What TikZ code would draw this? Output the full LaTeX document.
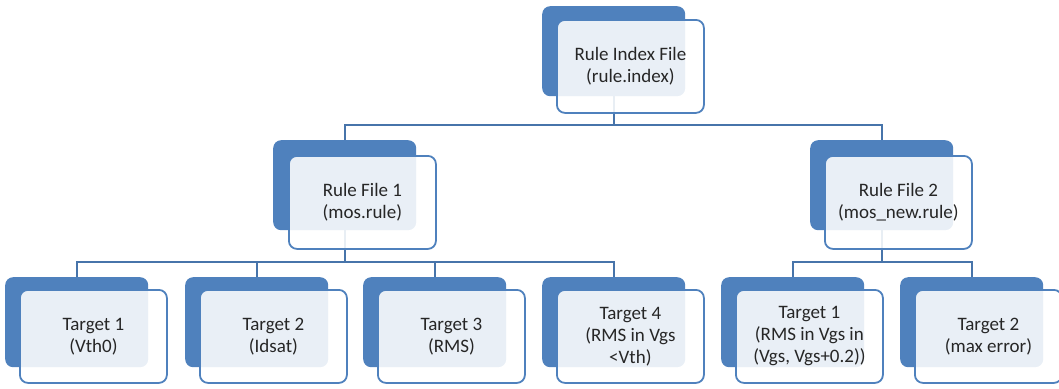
\documentclass[tikz,border=0pt]{standalone}
\usepackage{fontspec}
\setmainfont{Carlito}
\usepackage{tikz}
\usepackage{xcolor}
\definecolor{bleuart}{HTML}{4F81BD}
\definecolor{texte}{HTML}{262626}
\pgfdeclarelayer{fond}
\pgfsetlayers{fond,main}
\tikzset{
    boite fond/.style={anchor=north west, rounded corners=8pt, fill=bleuart, minimum width=143pt, minimum height=90pt, inner sep=0pt},
    boite/.style={anchor=north west, rounded corners=8pt, draw=bleuart, line width=1.8pt, fill=white, fill opacity=0.88, text opacity=1, text=texte, minimum width=147pt, minimum height=93pt, inner sep=2pt, align=center, font=\fontsize{19}{22}\selectfont},
    lien/.style={draw=bleuart!90!black, line width=2.1pt},
}
\begin{document}
\begin{tikzpicture}[x=1pt, y=-1pt]
\useasboundingbox (0,0) rectangle (1059,388);
\node[boite fond] (f-index) at (542,6) {};
\node[boite] (index) at (556,19) {Rule Index File\\(rule.index)};
\node[boite fond] (f-r1) at (273,140) {};
\node[boite] (r1) at (288,155) {Rule File 1\\(mos.rule)};
\node[boite fond] (f-r2) at (810,140) {};
\node[boite] (r2) at (824,155) {Rule File 2\\(mos\_new.rule)};
\foreach \i/\x/\txt in {1/5/{Target 1\\(Vth0)}, 2/185/{Target 2\\(Idsat)}, 3/363/{Target 3\\(RMS)}, 4/542/{Target 4\\(RMS in Vgs\\<Vth)}, 5/721/{Target 1\\(RMS in Vgs in\\(Vgs, Vgs+0.2))}, 6/900/{Target 2\\(max error)}} {
    \node[boite fond] (f-c\i) at (\x,277) {};
    \node[boite] (c\i) at (\x+14,289) {\txt};
}
\begin{pgfonlayer}{fond}
\draw[lien] (f-index.south) -- ++(0,29) -| (f-r1.north);
\draw[lien] (f-index.south) -- ++(0,29) -| (f-r2.north);
\foreach \i in {1,2,3,4} {\draw[lien] (f-r1.south) -- ++(0,32) -| (f-c\i.north);}
\foreach \i in {5,6} {\draw[lien] (f-r2.south) -- ++(0,32) -| (f-c\i.north);}
\end{pgfonlayer}
\end{tikzpicture}
\end{document}
